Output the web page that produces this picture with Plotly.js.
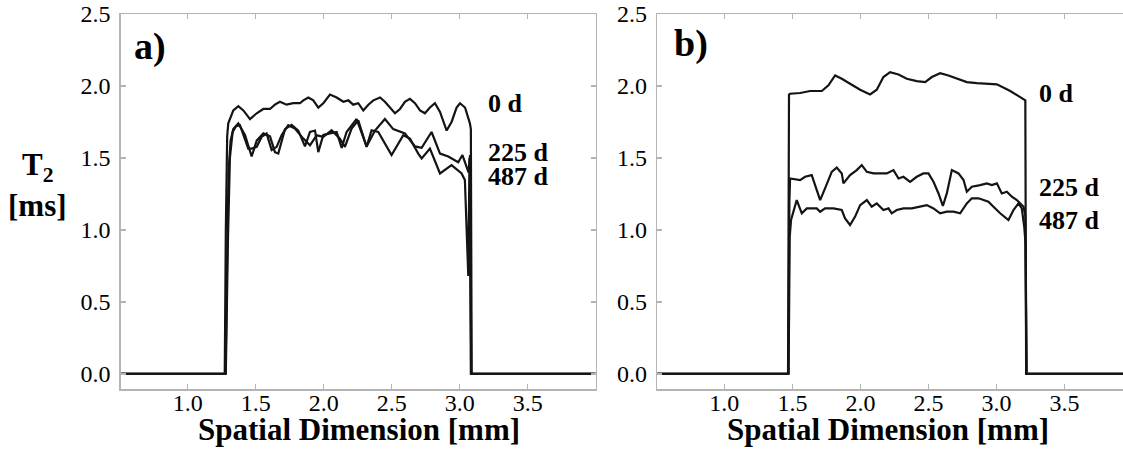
<!DOCTYPE html>
<html>
<head>
<meta charset="utf-8">
<script src="https://cdn.plot.ly/plotly-3.0.1.min.js"></script>
<style>html,body{margin:0;padding:0;overflow:hidden;background:#fff}</style>
</head>
<body>
<div id="chart" style="width:1123px;height:457px"></div>
<script>
// ---------- data ----------
const seriesLabels = ["0 d", "225 d", "487 d"];
const panelLabels = ["a)", "b)"];
const xTitle = "Spatial Dimension [mm]";
const yTitleTop = "T<sub>2</sub>";
const yTitleBottom = "[ms]";

// Panel a
const xa0 = [0.5,1.0,1.272,1.28,1.29,1.298,1.335,1.372,1.409,1.458,1.507,1.556,1.605,1.641,1.678,1.727,1.776,1.825,1.850,1.887,1.923,1.960,1.997,2.046,2.095,2.144,2.181,2.217,2.254,2.291,2.328,2.365,2.414,2.450,2.487,2.524,2.561,2.597,2.634,2.671,2.708,2.744,2.781,2.818,2.855,2.904,2.940,2.977,3.002,3.039,3.075,3.082,3.088,3.5,4.0];
const ya0 = [0,0,0,1.0,1.65,1.74,1.83,1.86,1.83,1.77,1.81,1.84,1.84,1.87,1.89,1.87,1.88,1.88,1.90,1.92,1.90,1.85,1.88,1.94,1.92,1.89,1.90,1.87,1.88,1.83,1.87,1.90,1.92,1.89,1.85,1.81,1.84,1.89,1.91,1.88,1.83,1.81,1.85,1.88,1.82,1.69,1.75,1.85,1.88,1.85,1.74,1.70,0,0,0];

const xa225 = [0.5,1.0,1.278,1.29,1.30,1.315,1.335,1.372,1.421,1.470,1.507,1.556,1.605,1.641,1.666,1.715,1.764,1.813,1.862,1.899,1.936,1.960,1.997,2.046,2.095,2.132,2.168,2.242,2.315,2.377,2.450,2.511,2.597,2.671,2.720,2.793,2.855,2.916,2.989,3.020,3.045,3.065,3.076,3.085,3.5,4.0];
const ya225 = [0,0,0,0.8,1.4,1.62,1.70,1.74,1.66,1.51,1.62,1.67,1.65,1.54,1.53,1.70,1.73,1.69,1.58,1.68,1.69,1.54,1.66,1.67,1.68,1.57,1.68,1.77,1.58,1.69,1.77,1.70,1.67,1.58,1.57,1.68,1.53,1.51,1.47,1.52,1.46,1.40,1.52,0,0,0];

const xa487 = [0.5,1.0,1.28,1.295,1.31,1.33,1.355,1.384,1.445,1.470,1.507,1.543,1.580,1.617,1.654,1.690,1.739,1.788,1.850,1.899,1.948,1.997,2.058,2.119,2.156,2.205,2.254,2.315,2.352,2.401,2.499,2.585,2.634,2.695,2.720,2.781,2.855,2.940,3.014,3.038,3.063,3.072,3.082,3.5,4.0];
const ya487 = [0,0,0,0.9,1.5,1.68,1.72,1.727,1.565,1.565,1.577,1.646,1.669,1.554,1.577,1.657,1.727,1.704,1.634,1.588,1.657,1.646,1.692,1.634,1.577,1.704,1.761,1.577,1.692,1.681,1.519,1.657,1.634,1.530,1.496,1.565,1.392,1.450,1.392,1.346,0.68,1.50,0,0,0];

// Panel b
const xb0 = [0.5,1.0,1.468,1.475,1.483,1.557,1.630,1.716,1.765,1.814,1.863,1.924,1.998,2.071,2.120,2.169,2.218,2.280,2.341,2.414,2.476,2.525,2.586,2.647,2.709,2.782,2.856,2.929,3.003,3.101,3.186,3.212,3.218,3.6,4.0];
const yb0 = [0,0,0,1.94,1.946,1.951,1.965,1.965,2.004,2.073,2.050,2.015,1.974,1.941,1.974,2.062,2.096,2.080,2.050,2.034,2.027,2.062,2.089,2.073,2.050,2.027,2.020,2.015,2.011,1.965,1.911,1.90,0,0,0];

const xb225 = [0.5,1.0,1.470,1.478,1.483,1.557,1.593,1.642,1.679,1.704,1.740,1.789,1.826,1.863,1.875,1.924,1.973,2.010,2.047,2.096,2.145,2.194,2.243,2.280,2.316,2.365,2.414,2.463,2.500,2.537,2.574,2.606,2.635,2.672,2.721,2.758,2.782,2.819,2.880,2.929,2.966,3.003,3.039,3.076,3.113,3.150,3.199,3.212,3.220,3.6,4.0];
const yb225 = [0,0,0,1.20,1.357,1.346,1.369,1.380,1.277,1.207,1.288,1.403,1.433,1.392,1.323,1.380,1.415,1.450,1.403,1.392,1.392,1.392,1.415,1.357,1.369,1.334,1.369,1.392,1.392,1.334,1.253,1.166,1.253,1.415,1.392,1.346,1.265,1.300,1.311,1.323,1.311,1.323,1.253,1.265,1.230,1.207,1.161,1.10,0,0,0];

const xb487 = [0.5,1.0,1.472,1.480,1.490,1.532,1.569,1.606,1.679,1.704,1.740,1.802,1.863,1.887,1.924,1.961,1.998,2.047,2.083,2.120,2.169,2.206,2.230,2.267,2.316,2.378,2.439,2.488,2.537,2.586,2.635,2.684,2.733,2.758,2.782,2.819,2.868,2.905,2.941,2.978,3.027,3.088,3.125,3.162,3.186,3.204,3.214,3.222,3.6,4.0];
const yb487 = [0,0,0,0.95,1.068,1.207,1.115,1.149,1.149,1.126,1.149,1.149,1.138,1.080,1.034,1.092,1.172,1.207,1.161,1.184,1.138,1.149,1.115,1.138,1.149,1.149,1.161,1.172,1.149,1.115,1.126,1.126,1.115,1.149,1.184,1.219,1.219,1.207,1.196,1.161,1.115,1.068,1.138,1.184,1.149,1.022,0.9,0,0,0];

const xTickVals = [1.0,1.5,2.0,2.5,3.0,3.5];
const yTickVals = [0.0,0.5,1.0,1.5,2.0,2.5];

// ---------- layout helpers ----------
const W = 1123, H = 457;
const px = p => p / W;
const py = p => 1 - p / H;
const serif = 'Liberation Serif, serif';

function trace(x, y, xa, ya){
  return {x:x, y:y, xaxis:xa, yaxis:ya, type:'scatter', mode:'lines',
          line:{color:'#141414', width:2.2}, hoverinfo:'skip'};
}
const data = [
  trace(xa0, ya0, 'x', 'y'),
  trace(xa225, ya225, 'x', 'y'),
  trace(xa487, ya487, 'x', 'y'),
  trace(xb0, yb0, 'x2', 'y2'),
  trace(xb225, yb225, 'x2', 'y2'),
  trace(xb487, yb487, 'x2', 'y2')
];

function axis(extra){
  return Object.assign({
    ticks:'inside', ticklen:5, tickwidth:1.5, tickcolor:'#b4b4b4',
    showline:true, linecolor:'#b4b4b4', linewidth:1.5,
    showgrid:false, zeroline:false, tickformat:'.1f', tickmode:'array',
    tickfont:{family:serif, size:24, color:'#000'}, automargin:false,
    fixedrange:true
  }, extra);
}
const yDomain = [py(389), py(14)];

function ann(text, xref, yref, x, y, xanchor, size){
  return {text:'<b>'+text+'</b>', xref:xref, yref:yref, x:x, y:y, xanchor:xanchor, yanchor:'middle',
          showarrow:false, font:{family:serif, size:size, color:'#000'}};
}

const layout = {
  width:W, height:H, margin:{l:0, r:0, t:0, b:0},
  paper_bgcolor:'#fff', plot_bgcolor:'#fff', showlegend:false,
  font:{family:serif, color:'#000'},
  xaxis:axis({domain:[px(120.7), px(595.7)], range:[0.507, 4.0], tickvals:xTickVals, anchor:'y', mirror:'ticks', ticklabelstandoff:-8}),
  yaxis:axis({domain:yDomain, range:[-0.106, 2.5], tickvals:yTickVals, anchor:'x', mirror:'ticks', ticklabelstandoff:4}),
  xaxis2:axis({domain:[px(657.3), 1], range:[0.507, 3.93], tickvals:xTickVals, anchor:'y2', mirror:'ticks', ticklabelstandoff:-8}),
  yaxis2:axis({domain:yDomain, range:[-0.106, 2.5], tickvals:yTickVals, anchor:'x2', mirror:false, ticklabelstandoff:4}),
  annotations:[
    ann(panelLabels[0], 'paper', 'paper', px(132), py(46), 'left', 38),
    ann(panelLabels[1], 'paper', 'paper', px(672), py(44), 'left', 38),
    ann(yTitleTop, 'paper', 'paper', px(38), py(167), 'center', 31),
    ann(yTitleBottom, 'paper', 'paper', px(37), py(205), 'center', 31),
    ann(xTitle, 'paper', 'paper', px(359), py(429), 'center', 31),
    ann(xTitle, 'paper', 'paper', px(888), py(429), 'center', 31),
    ann(seriesLabels[0], 'x', 'y', 3.193, 1.875, 'left', 26),
    ann(seriesLabels[1], 'x', 'y', 3.193, 1.54, 'left', 26),
    ann(seriesLabels[2], 'x', 'y', 3.193, 1.37, 'left', 26),
    ann(seriesLabels[0], 'x2', 'y2', 3.299, 1.95, 'left', 26),
    ann(seriesLabels[1], 'x2', 'y2', 3.299, 1.295, 'left', 26),
    ann(seriesLabels[2], 'x2', 'y2', 3.299, 1.065, 'left', 26)
  ]
};

Plotly.newPlot('chart', data, layout, {displayModeBar:false, staticPlot:true});
</script>
</body>
</html>
